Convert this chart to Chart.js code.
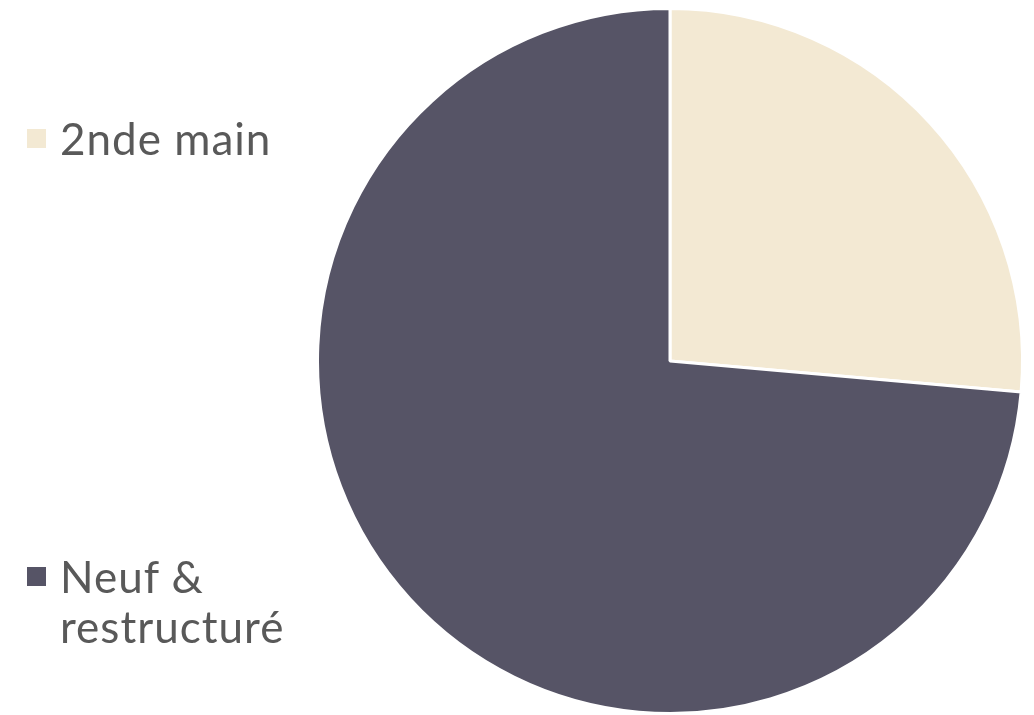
<!DOCTYPE html>
<html>
<head>
<meta charset="utf-8">
<script src="https://cdn.jsdelivr.net/npm/chart.js@4/dist/chart.umd.min.js"></script>
<style>
    html, body { margin: 0; padding: 0; background: #fff; }
    #wrap { position: relative; width: 1034px; height: 715px; overflow: hidden; }
    #pie-chart { position: absolute; left: 0; top: 0; }
    .legend-item {
        position: absolute;
        left: 27px;
        font-family: Lato, "Open Sans", sans-serif;
        font-size: 44px;
        line-height: 50px;
        letter-spacing: 1px;
        color: #595959;
    }
    .legend-item .box {
        position: absolute;
        left: 0;
        top: 16px;
        width: 19px;
        height: 19px;
    }
    .legend-item .txt { display: block; margin-left: 33px; width: 250px; }
</style>
</head>
<body>
<div id="wrap">
    <canvas id="pie-chart" width="1034" height="715"></canvas>
</div>
<script>
const labels = ['2nde main', 'Neuf & restructuré'];
const values = [26.4, 73.6];
const colors = ['#F3E9D3', '#565466'];
const legendTops = [113, 551];

// legend on the left, one block per slice
const wrap = document.getElementById('wrap');
labels.forEach((label, i) => {
    const item = document.createElement('div');
    item.className = 'legend-item';
    item.style.top = legendTops[i] + 'px';
    const box = document.createElement('span');
    box.className = 'box';
    box.style.background = colors[i];
    const txt = document.createElement('span');
    txt.className = 'txt';
    txt.textContent = label;
    item.appendChild(box);
    item.appendChild(txt);
    wrap.appendChild(item);
});

new Chart(document.getElementById('pie-chart'), {
    type: 'pie',
    data: {
        labels: labels,
        datasets: [{
            data: values,
            backgroundColor: colors,
            borderColor: '#ffffff',
            borderWidth: 3,
            hoverOffset: 0
        }]
    },
    options: {
        responsive: false,
        animation: false,
        layout: {
            padding: { left: 315, right: 9, top: 7, bottom: -2 }
        },
        plugins: {
            legend: { display: false },
            tooltip: { enabled: false }
        }
    }
});
</script>
</body>
</html>
